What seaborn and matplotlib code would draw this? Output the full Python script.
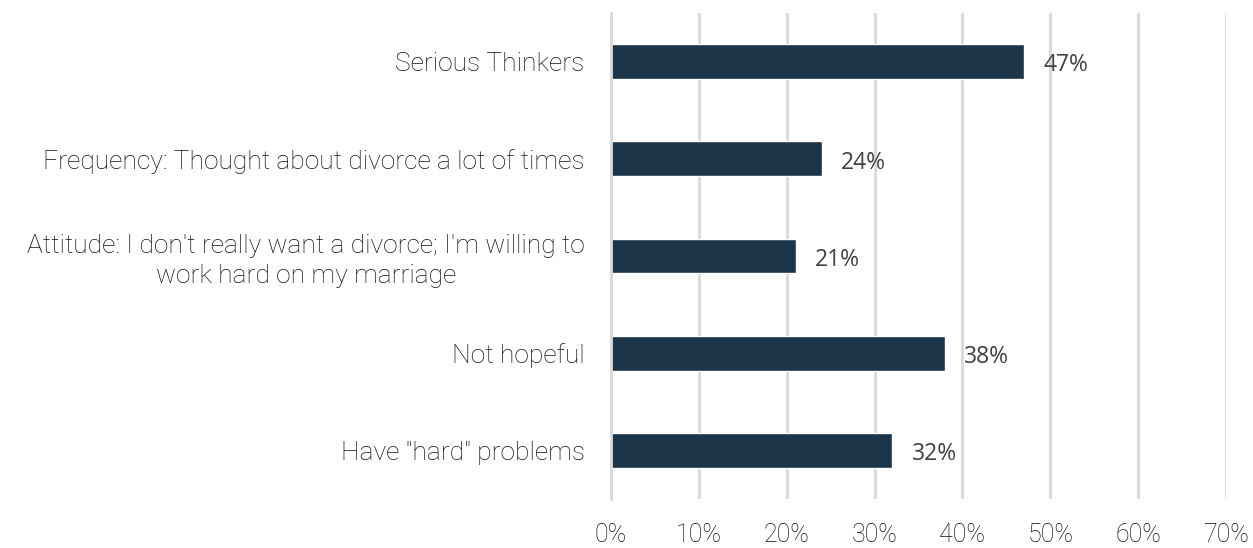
import matplotlib
matplotlib.use("Agg")
import matplotlib.pyplot as plt
import seaborn as sns
import pandas as pd
import numpy as np

categories = [
    "Serious Thinkers",
    "Frequency: Thought about divorce a lot of times",
    "Attitude: I don't really want a divorce; I'm willing to\nwork hard on my marriage",
    "Not hopeful",
    "Have \"hard\" problems",
]
values = [47, 24, 21, 38, 32]
value_labels = ["47%", "24%", "21%", "38%", "32%"]
x_ticks = [0, 10, 20, 30, 40, 50, 60, 70]
x_tick_labels = ["0%", "10%", "20%", "30%", "40%", "50%", "60%", "70%"]

sns.set_theme(style="white")
plt.rcParams["font.family"] = ["Roboto", "DejaVu Sans"]

df = pd.DataFrame({"category": categories, "value": values})

fig = plt.figure(figsize=(12.53, 5.48), dpi=100)
ax = fig.add_axes([611 / 1253, 49 / 548, 615 / 1253, 486 / 548])

sns.barplot(data=df, y="category", x="value", orient="h", color="#1c3549",
            width=0.36, ax=ax, saturation=1)

ax.set_xlim(0, 70)
ax.set_ylim(len(categories) - 0.5, -0.5)
ax.set_xticks(x_ticks)
ax.set_xticklabels(x_tick_labels, fontsize=18, fontweight="light", color="#111111")
ax.set_yticks(range(len(categories)))
ax.set_yticklabels(categories, fontsize=19, fontweight="light", color="#111111",
                   multialignment="center", linespacing=1.3)
ax.set_yticks(np.arange(-0.5, len(categories), 1), minor=True)
ax.tick_params(axis="y", which="major", length=0, pad=19)
ax.tick_params(axis="y", which="minor", length=8, width=2, color="#d9d9d9")
ax.tick_params(axis="x", length=0, pad=17)
ax.set_xlabel("")
ax.set_ylabel("")

ax.grid(axis="x", color="#d9d9d9", linewidth=2)
ax.set_axisbelow(True)
for s in ["top", "right", "bottom"]:
    ax.spines[s].set_visible(False)
ax.spines["left"].set_color("#d9d9d9")
ax.spines["left"].set_linewidth(2)

for i, (v, lab) in enumerate(zip(values, value_labels)):
    ax.text(v + 2.2, i + 0.04, lab, va="center", ha="left", fontsize=16.5,
            color="#404040", family=["Open Sans", "DejaVu Sans"])

fig.savefig("out.png", dpi=100)
